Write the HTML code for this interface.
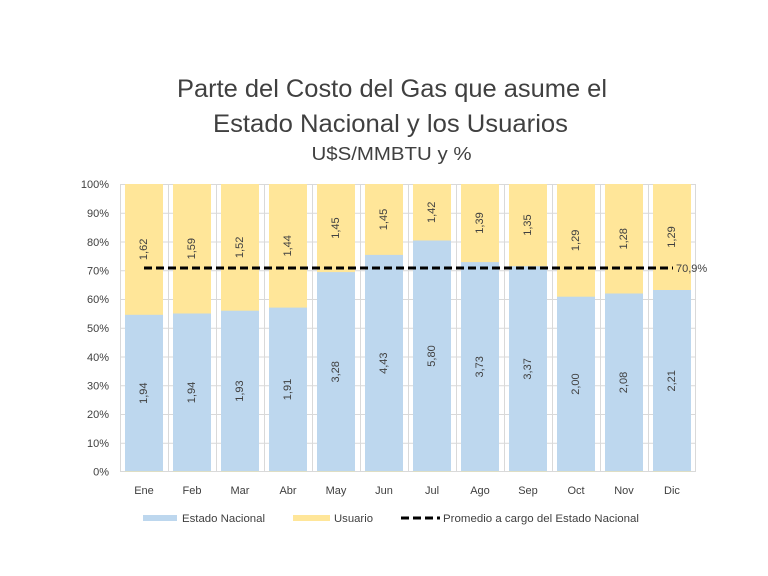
<!DOCTYPE html>
<html><head><meta charset="utf-8"><style>
html,body{margin:0;padding:0;background:#fff;}
svg{display:block;}
text{font-family:"Liberation Sans",sans-serif;fill:#404040;}
</style></head><body>
<svg width="768" height="576" viewBox="0 0 768 576" xmlns="http://www.w3.org/2000/svg">
<rect width="768" height="576" fill="#fff"/>
<!-- Title -->
<text x="392" y="97" font-size="25" text-anchor="middle" textLength="430" lengthAdjust="spacingAndGlyphs">Parte del Costo del Gas que asume el</text>
<text x="390.5" y="132" font-size="25" text-anchor="middle" textLength="355" lengthAdjust="spacingAndGlyphs">Estado Nacional y los Usuarios</text>
<text x="391.5" y="160" font-size="18" text-anchor="middle" textLength="160" lengthAdjust="spacingAndGlyphs">U$S/MMBTU y %</text>
<!-- gridlines -->
<g stroke="#d9d9d9" stroke-width="1">
<line x1="120" y1="184.5" x2="696" y2="184.5"/>
<line x1="120" y1="213.25" x2="696" y2="213.25"/>
<line x1="120" y1="242" x2="696" y2="242"/>
<line x1="120" y1="270.75" x2="696" y2="270.75"/>
<line x1="120" y1="299.5" x2="696" y2="299.5"/>
<line x1="120" y1="328.25" x2="696" y2="328.25"/>
<line x1="120" y1="357" x2="696" y2="357"/>
<line x1="120" y1="385.75" x2="696" y2="385.75"/>
<line x1="120" y1="414.5" x2="696" y2="414.5"/>
<line x1="120" y1="443.25" x2="696" y2="443.25"/>
<line x1="120" y1="471.5" x2="696" y2="471.5"/>
<line x1="120.5" y1="184" x2="120.5" y2="472"/>
<line x1="168.5" y1="184" x2="168.5" y2="472"/>
<line x1="216.5" y1="184" x2="216.5" y2="472"/>
<line x1="264.5" y1="184" x2="264.5" y2="472"/>
<line x1="312.5" y1="184" x2="312.5" y2="472"/>
<line x1="360.5" y1="184" x2="360.5" y2="472"/>
<line x1="408.5" y1="184" x2="408.5" y2="472"/>
<line x1="456.5" y1="184" x2="456.5" y2="472"/>
<line x1="504.5" y1="184" x2="504.5" y2="472"/>
<line x1="552.5" y1="184" x2="552.5" y2="472"/>
<line x1="600.5" y1="184" x2="600.5" y2="472"/>
<line x1="648.5" y1="184" x2="648.5" y2="472"/>
<line x1="695.5" y1="184" x2="695.5" y2="472"/>
</g>
<!-- y labels -->
<g font-size="11" text-anchor="end">
<text x="109" y="188">100%</text>
<text x="109" y="217">90%</text>
<text x="109" y="246">80%</text>
<text x="109" y="274.5">70%</text>
<text x="109" y="303">60%</text>
<text x="109" y="332">50%</text>
<text x="109" y="361">40%</text>
<text x="109" y="389.5">30%</text>
<text x="109" y="418">20%</text>
<text x="109" y="447">10%</text>
<text x="109" y="475.5">0%</text>
</g>
<!-- bars: yellow full, blue on top -->
<g fill="#ffe699">
<rect x="125" y="184" width="38" height="288"/>
<rect x="173" y="184" width="38" height="288"/>
<rect x="221" y="184" width="38" height="288"/>
<rect x="269" y="184" width="38" height="288"/>
<rect x="317" y="184" width="38" height="288"/>
<rect x="365" y="184" width="38" height="288"/>
<rect x="413" y="184" width="38" height="288"/>
<rect x="461" y="184" width="38" height="288"/>
<rect x="509" y="184" width="38" height="288"/>
<rect x="557" y="184" width="38" height="288"/>
<rect x="605" y="184" width="38" height="288"/>
<rect x="653" y="184" width="38" height="288"/>
</g>
<g fill="#bdd7ee">
<rect x="125" y="314.8" width="38" height="156.7"/>
<rect x="173" y="313.5" width="38" height="158"/>
<rect x="221" y="310.7" width="38" height="160.8"/>
<rect x="269" y="307.6" width="38" height="163.9"/>
<rect x="317" y="272.1" width="38" height="199.4"/>
<rect x="365" y="254.9" width="38" height="216.6"/>
<rect x="413" y="240.5" width="38" height="231"/>
<rect x="461" y="262.1" width="38" height="209.4"/>
<rect x="509" y="266.2" width="38" height="205.3"/>
<rect x="557" y="296.7" width="38" height="174.8"/>
<rect x="605" y="293.5" width="38" height="178"/>
<rect x="653" y="290" width="38" height="181.5"/>
</g>
<!-- value labels -->
<g font-size="11" text-anchor="middle" dominant-baseline="central">
<text transform="translate(144,249.4) rotate(-90)">1,62</text>
<text transform="translate(192,248.7) rotate(-90)">1,59</text>
<text transform="translate(240,247.4) rotate(-90)">1,52</text>
<text transform="translate(288,245.8) rotate(-90)">1,44</text>
<text transform="translate(336,228.1) rotate(-90)">1,45</text>
<text transform="translate(384,219.5) rotate(-90)">1,45</text>
<text transform="translate(432,212.3) rotate(-90)">1,42</text>
<text transform="translate(480,223) rotate(-90)">1,39</text>
<text transform="translate(528,225.1) rotate(-90)">1,35</text>
<text transform="translate(576,240.4) rotate(-90)">1,29</text>
<text transform="translate(624,238.8) rotate(-90)">1,28</text>
<text transform="translate(672,237) rotate(-90)">1,29</text>
<text transform="translate(144,393.2) rotate(-90)">1,94</text>
<text transform="translate(192,392.5) rotate(-90)">1,94</text>
<text transform="translate(240,391.1) rotate(-90)">1,93</text>
<text transform="translate(288,389.5) rotate(-90)">1,91</text>
<text transform="translate(336,371.8) rotate(-90)">3,28</text>
<text transform="translate(384,363.2) rotate(-90)">4,43</text>
<text transform="translate(432,356) rotate(-90)">5,80</text>
<text transform="translate(480,366.8) rotate(-90)">3,73</text>
<text transform="translate(528,368.9) rotate(-90)">3,37</text>
<text transform="translate(576,384.1) rotate(-90)">2,00</text>
<text transform="translate(624,382.5) rotate(-90)">2,08</text>
<text transform="translate(672,380.8) rotate(-90)">2,21</text>
</g>
<!-- average line -->
<line x1="144" y1="268" x2="673" y2="268" stroke="#000" stroke-width="3" stroke-dasharray="8,4"/>
<text x="676" y="272" font-size="11">70,9%</text>
<!-- x labels -->
<g font-size="11" text-anchor="middle">
<text x="144" y="494">Ene</text>
<text x="192" y="494">Feb</text>
<text x="240" y="494">Mar</text>
<text x="288" y="494">Abr</text>
<text x="336" y="494">May</text>
<text x="384" y="494">Jun</text>
<text x="432" y="494">Jul</text>
<text x="480" y="494">Ago</text>
<text x="528" y="494">Sep</text>
<text x="576" y="494">Oct</text>
<text x="624" y="494">Nov</text>
<text x="672" y="494">Dic</text>
</g>
<!-- legend -->
<rect x="143" y="515" width="34" height="6" fill="#bdd7ee"/>
<text x="182" y="522" font-size="11" textLength="83" lengthAdjust="spacingAndGlyphs">Estado Nacional</text>
<rect x="293" y="515" width="37" height="6" fill="#ffe699"/>
<text x="334" y="522" font-size="11" textLength="39" lengthAdjust="spacingAndGlyphs">Usuario</text>
<line x1="401" y1="518" x2="440" y2="518" stroke="#000" stroke-width="3" stroke-dasharray="8,4"/>
<text x="443" y="522" font-size="11" textLength="196" lengthAdjust="spacingAndGlyphs">Promedio a cargo del Estado Nacional</text>
</svg>
</body></html>
